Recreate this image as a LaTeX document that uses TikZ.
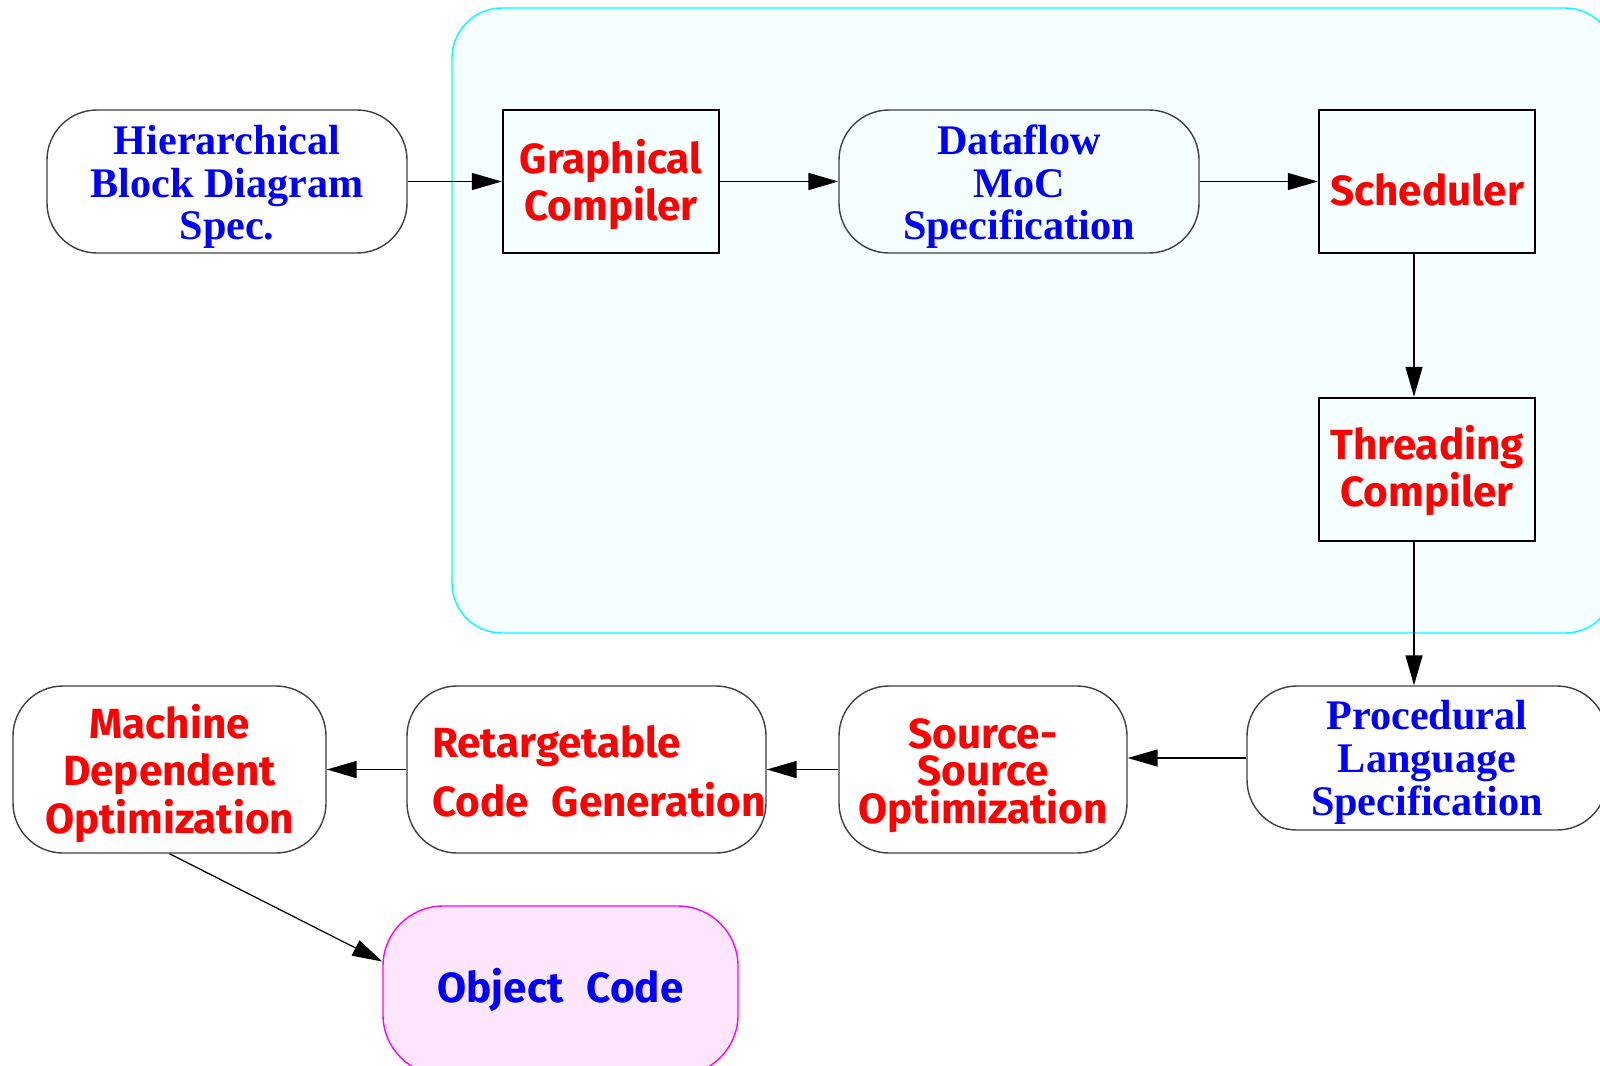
\documentclass[tikz,border=0pt]{standalone}
\usepackage{fontspec}
\setmainfont{Liberation Serif}
\newfontfamily\comicfnt{Fira Sans}
\usepackage{tikz}
\usetikzlibrary{arrows.meta}
\definecolor{bgcyan}{RGB}{245,255,255}
\definecolor{bgline}{RGB}{0,255,255}
\definecolor{objpink}{RGB}{255,230,255}
\definecolor{objline}{RGB}{255,0,255}
\newcommand{\topgap}[1]{\rule{0pt}{#1}}

\begin{document}
\begin{tikzpicture}[
    spec/.style={draw=black!75,line width=0.4pt,rounded corners=0.5cm,minimum width=3.6cm,minimum height=1.43cm,
        inner sep=0pt,align=center,text=blue,font={\bfseries\fontsize{12}{12.2}\selectfont}},
    blk/.style={draw,line width=0.7pt,minimum width=2.16cm,minimum height=1.43cm,inner sep=0pt,
        align=center,text=red,font={\comicfnt\bfseries\fontsize{12}{13.2}\selectfont}},
    stage/.style={draw=black!75,line width=0.4pt,rounded corners=0.5cm,minimum height=1.67cm,
        inner sep=0pt,align=center,text=red,font={\comicfnt\bfseries\fontsize{12}{13.6}\selectfont}},
    flow/.style={-{Triangle[length=3mm,width=1.7mm]},line width=0.45pt}
]
            \useasboundingbox (0,0) rectangle (16,-10.65);
            \draw[bgline,fill=bgcyan,line width=0.4pt,rounded corners=0.5cm] (4.52,-0.08) rectangle (16.15,-6.33);

            \node[spec] (hier) at (2.27,-1.815) {\topgap{0.4cm}Hierarchical\\Block Diagram\\Spec.};
            \node[blk] (graph) at (6.11,-1.815) {\topgap{0.4cm}Graphical\\Compiler};
            \node[spec] (dflow) at (10.19,-1.815) {\topgap{0.4cm}Dataflow\\MoC\\Specification};
            \node[blk] (sched) at (14.27,-1.815) {\topgap{0.48cm}Scheduler};
            \node[blk] (thread) at (14.27,-4.695) {\topgap{0.36cm}Threading\\Compiler};
            \node[spec,minimum height=1.44cm] (proc) at (14.27,-7.58) {\topgap{0.38cm}Procedural\\Language\\Specification};

            \node[stage,minimum width=2.88cm,font={\comicfnt\bfseries\fontsize{12}{10.6}\selectfont}] (src) at (9.83,-7.695) {\topgap{0.42cm}Source-\\Source\\Optimization};
            \node[stage,minimum width=3.59cm,text width=3.09cm,inner xsep=0.25cm,align=left,
                  font={\comicfnt\bfseries\fontsize{12}{16.7}\selectfont}] (retarg) at (5.865,-7.695) {\topgap{0.36cm}Retargetable\\\mbox{Code\hspace{0.55em}Generation}};
            \node[stage,minimum width=3.13cm] (mach) at (1.695,-7.695) {\topgap{0.42cm}Machine\\Dependent\\Optimization};
            \node[stage,draw=objline,fill=objpink,minimum width=3.55cm,minimum height=1.69cm,rounded corners=0.6cm,
                  text=blue] (obj) at (5.605,-9.905) {Object\hspace{0.55em}Code};

            \draw[flow] (hier) -- (graph);
            \draw[flow] (graph) -- (dflow);
            \draw[flow] (dflow) -- (sched);
            \draw[flow] ([xshift=-0.13cm]sched.south) -- ([xshift=-0.13cm]thread.north);
            \draw[flow] ([xshift=-0.13cm]thread.south) -- ([xshift=-0.13cm]proc.north);
            \draw[flow] (proc.west) -- (proc.west -| src.east);
            \draw[flow] (src) -- (retarg);
            \draw[flow] (retarg) -- (mach);
            \draw[flow,line width=0.35pt] (mach.south) -- ([yshift=0.29cm]obj.west);
        \end{tikzpicture}
\end{document}
